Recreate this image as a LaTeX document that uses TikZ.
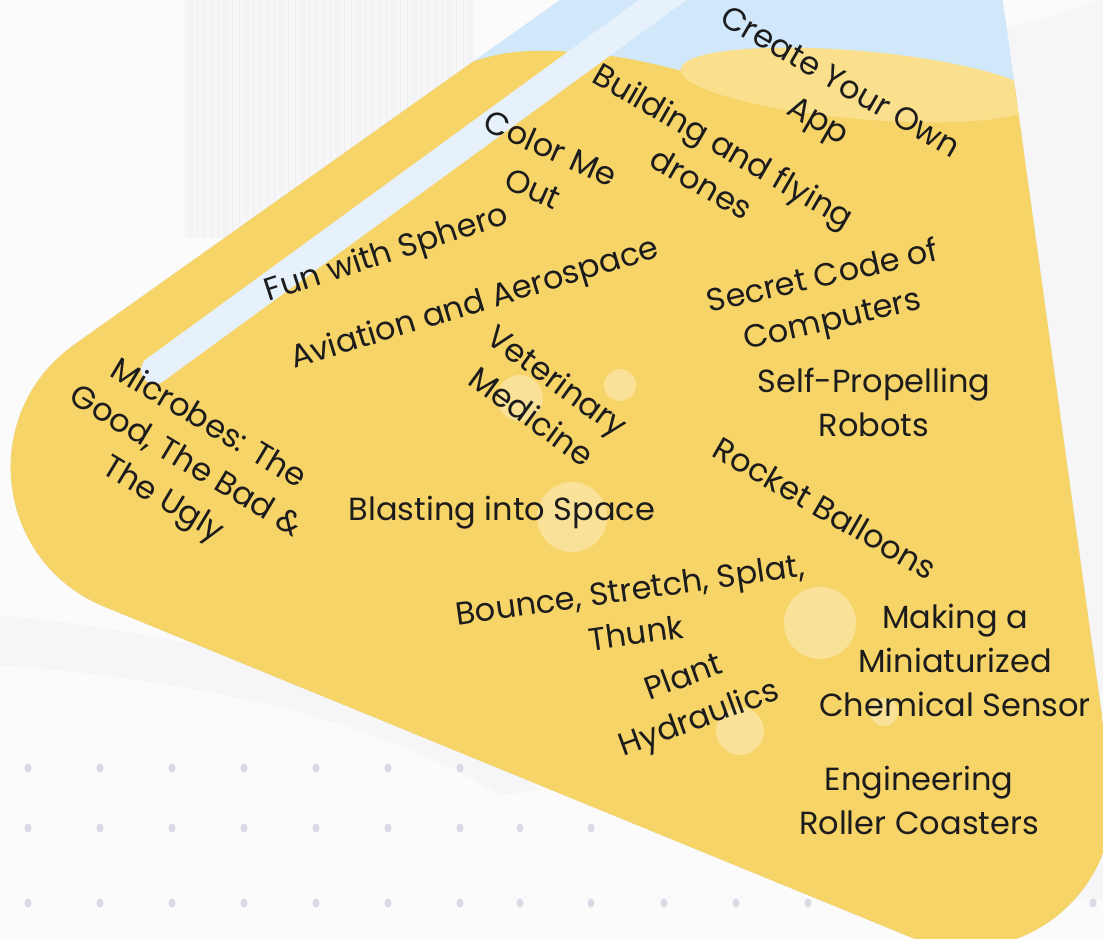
\documentclass[tikz,border=0pt]{standalone}
\usepackage{fontspec}
\setmainfont{Poppins}
\definecolor{bg}{HTML}{FBFBFC}
\definecolor{bgA}{HTML}{F6F6F8}
\definecolor{bgL}{HTML}{EFEFF2}
\definecolor{dotc}{HTML}{DCD9E6}
\definecolor{yel}{HTML}{F7D468}
\definecolor{lyel}{HTML}{FADF8C}
\definecolor{neck}{HTML}{D1E7FA}
\definecolor{stripe}{HTML}{E7F1FC}
\definecolor{txt}{HTML}{1C1C1C}
\begin{document}
\begin{tikzpicture}[x=1pt,y=-1pt,
  lbl/.style={align=center, text=txt, inner sep=0pt, font=\fontsize{32}{44}\selectfont},
  bubble/.style={fill=white, fill opacity=0.32},
  dotmark/.style={fill=dotc}]
\useasboundingbox (0,0) rectangle (1103,938);
\clip (0,0) rectangle (1103,938);
% background
\fill[bg] (0,0) rectangle (1103,938);
\fill[bgA] (185,0) rectangle (475,238);
\foreach \x in {190,197,...,470} \draw[bgL, line width=0.6] (\x,0) -- (\x,238);
\fill[bgA] (1003,30) -- (1103,0) -- (1103,900) -- (1065,900) -- cycle;
\fill[bgA] (0,615) .. controls (250,640) and (420,700) .. (540,790) -- (500,795) .. controls (380,720) and (200,680) .. (0,665) -- cycle;
% dots
\foreach \x in {28,100,172,244,316,388,460} \fill[dotmark] (\x,768) ellipse [x radius=3.5, y radius=4.5];
\foreach \x in {28,100,172,244,316,388,460,520,591} \fill[dotmark] (\x,828) ellipse [x radius=3.5, y radius=4.5];
\foreach \x in {28,100,172,244,316,388,460,520,591,664,736,808,1093} \fill[dotmark] (\x,903) ellipse [x radius=3.5, y radius=4.5];
% flask
\def\flask{(588,-20) -- (75,344) .. controls (-23,413) and (-6,562) .. (105,607) -- (910,937) .. controls (1014.5,979.8) and (1126.5,893) .. (1111,781) -- (1000,-20) -- cycle}
\begin{scope}
\clip \flask;
\fill[neck] (-50,-50) rectangle (1200,1100);
\fill[yel] (400,90) -- (472,62) .. controls (500,52) and (525,50) .. (555,51) .. controls (610,53) and (650,62) .. (700,76) -- (780,86) -- (1150,92) -- (1200,1100) -- (-100,1100) -- (-100,150) -- cycle;
\fill[lyel, rotate around={-5:(860,85)}] (860,85) ellipse [x radius=180, y radius=34];
\coordinate (stripeTop) at (690,-20);
\coordinate (stripeEnd) at (155,370);
\draw[stripe, line width=28, line cap=round] (stripeTop) -- (stripeEnd);
\fill[bubble] (520,398) circle [radius=23];
\fill[bubble] (620,385) circle [radius=16];
\fill[bubble] (572,517) circle [radius=35];
\fill[bubble] (820,623) circle [radius=36];
\fill[bubble] (740,731) circle [radius=24];
\fill[bubble] (884,712) circle [radius=14];
\end{scope}
% labels
\node[lbl, rotate=-30] (app) at (828,104) {Create Your Own\\App};
\node[lbl, rotate=-30] (drones) at (713,164) {Building and flying\\drones};
\node[lbl, rotate=-24] (color) at (542,168) {Color Me\\Out};
\node[lbl, rotate=18] (sphero) at (387,255) {Fun with Sphero};
\node[lbl, rotate=17] (avia) at (475,305) {Aviation and Aerospace};
\node[lbl, rotate=-36] (vet) at (545,398) {Veterinary\\Medicine};
\node[lbl, rotate=13] (secret) at (828,300) {Secret Code of\\Computers};
\node[lbl] (robots) at (874,402) {Self-Propelling\\Robots};
\node[lbl, rotate=-30] (rocket) at (825,508) {Rocket Balloons};
\node[lbl, rotate=-31] (microbes) at (185,463) {Microbes: The\\Good, The Bad \&\\The Ugly};
\node[lbl] (blast) at (502,513) {Blasting into Space};
\node[lbl, rotate=8] (bounce) at (633,611) {Bounce, Stretch, Splat,\\Thunk};
\node[lbl, rotate=20] (plant) at (692,700) {Plant\\Hydraulics};
\node[lbl] (sensor) at (955,660) {Making a\\Miniaturized\\Chemical Sensor};
\node[lbl] (coaster) at (919,800) {Engineering\\Roller Coasters};
\end{tikzpicture}
\end{document}
